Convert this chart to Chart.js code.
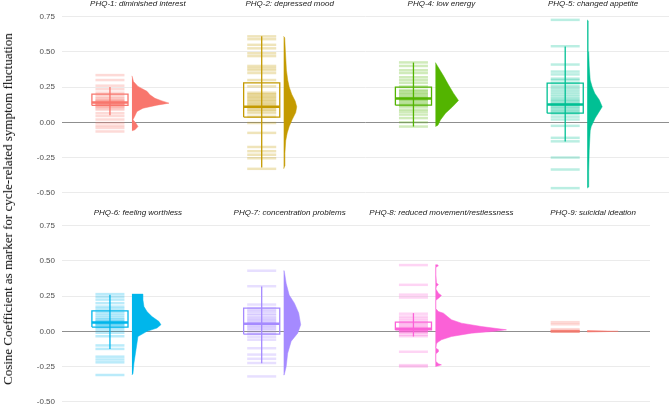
<!DOCTYPE html>
<html>
<head>
<meta charset="utf-8">
<script src="https://cdn.jsdelivr.net/npm/chart.js@4.4.1/dist/chart.umd.min.js"></script>
<style>
  html, body { margin: 0; padding: 0; background: #fff; }
  #wrap { position: relative; width: 669px; height: 406px; overflow: hidden; }
  #topRow { position: absolute; left: 0; top: 0; }
  #bottomRow { position: absolute; left: 0; top: 204px; }
  #yTitle {
    position: absolute; left: 8px; top: 209px;
    transform: translate(-50%, -50%) rotate(-90deg);
    white-space: nowrap; font: 13px "Liberation Serif", serif; color: #000;
  }
</style>
</head>
<body>
<div id="wrap">
  <canvas id="topRow" width="669" height="204"></canvas>
  <canvas id="bottomRow" width="669" height="202"></canvas>
  <div id="yTitle">Cosine Coefficient as marker for cycle-related symptom fluctuation</div>
</div>
<script>
// facet titles
const topItems = ['PHQ-1: diminished interest', 'PHQ-2: depressed mood', 'PHQ-4: low energy', 'PHQ-5: changed appetite'];
const bottomItems = ['PHQ-6: feeling worthless', 'PHQ-7: concentration problems', 'PHQ-8: reduced movement/restlessness', 'PHQ-9: suicidal ideation'];
const itemColors = ['#F8766D', '#C49A00', '#53B400', '#00C094', '#00B6EB', '#A58AFF', '#FB61D7', '#F8766D'];
const yTicks = [-0.5, -0.25, 0, 0.25, 0.5, 0.75];

// one value per participant (drawn as a dash)
const phq1 = [0.335, 0.30, 0.26, 0.235, 0.21, 0.195, 0.18, 0.17, 0.16, 0.155, 0.15, 0.145, 0.14, 0.135, 0.13, 0.13, 0.125, 0.12, 0.115, 0.11, 0.10, 0.09, 0.065, 0.045, 0.02, -0.005, -0.025, -0.04, -0.065];
const phq2 = [0.61, 0.59, 0.55, 0.525, 0.49, 0.47, 0.40, 0.385, 0.37, 0.35, 0.30, 0.255, 0.21, 0.20, 0.19, 0.18, 0.17, 0.16, 0.15, 0.14, 0.13, 0.12, 0.11, 0.10, 0.09, 0.08, 0.065, 0.04, -0.005, -0.075, -0.175, -0.205, -0.23, -0.255, -0.33];
const phq4 = [0.425, 0.40, 0.37, 0.35, 0.32, 0.30, 0.28, 0.255, 0.23, 0.22, 0.21, 0.20, 0.19, 0.18, 0.17, 0.165, 0.16, 0.15, 0.14, 0.13, 0.12, 0.11, 0.09, 0.075, 0.055, 0.03, 0.0, -0.03];
const phq5 = [0.727, 0.54, 0.41, 0.36, 0.34, 0.31, 0.30, 0.28, 0.26, 0.245, 0.23, 0.215, 0.20, 0.185, 0.17, 0.16, 0.15, 0.14, 0.13, 0.125, 0.12, 0.11, 0.10, 0.09, 0.08, 0.07, 0.06, 0.04, 0.02, -0.025, -0.11, -0.135, -0.25, -0.335, -0.467];
const phq6 = [0.264, 0.245, 0.225, 0.20, 0.175, 0.16, 0.14, 0.125, 0.11, 0.095, 0.085, 0.075, 0.07, 0.06, 0.055, 0.05, 0.045, 0.035, 0.025, 0.01, -0.01, -0.035, -0.10, -0.125, -0.18, -0.20, -0.22, -0.31];
const phq7 = [0.43, 0.32, 0.19, 0.165, 0.15, 0.14, 0.125, 0.115, 0.10, 0.09, 0.08, 0.07, 0.06, 0.055, 0.05, 0.04, 0.03, 0.02, 0.01, -0.01, -0.02, -0.04, -0.06, -0.12, -0.165, -0.195, -0.225, -0.32];
const phq8 = [0.47, 0.33, 0.26, 0.24, 0.125, 0.105, 0.09, 0.075, 0.06, 0.05, 0.04, 0.03, 0.02, 0.015, 0.01, 0.005, 0.0, 0.0, -0.005, -0.01, -0.025, -0.035, -0.145, -0.24, -0.25];
const phq9 = [0.065, 0.05, 0.015, 0.005, 0, 0, 0, 0, 0, 0];

// boxplots: [lower whisker, Q1, median, Q3, upper whisker]
const phq1Box = [0.05, 0.12, 0.14, 0.20, 0.25];
const phq2Box = [-0.32, 0.037, 0.11, 0.28, 0.61];
const phq4Box = [-0.03, 0.122, 0.169, 0.25, 0.424];
const phq5Box = [-0.136, 0.065, 0.126, 0.278, 0.538];
const phq6Box = [-0.126, 0.03, 0.062, 0.145, 0.26];
const phq7Box = [-0.226, -0.02, 0.053, 0.164, 0.318];
const phq8Box = [-0.037, 0.01, 0.018, 0.065, 0.129];
const phq9Box = null;

// half violins: value levels and density
const phq1DensY = [-0.06, -0.053, -0.03, -0.006, 0.018, 0.046, 0.077, 0.10, 0.122, 0.136, 0.152, 0.17, 0.195, 0.22, 0.255, 0.29, 0.33];
const phq1Dens = [0, 3, 6, 4, 1, 3, 5, 11, 25, 37, 30, 23, 18, 15, 6, 1.5, 0];
const phq2DensY = [-0.33, -0.31, -0.22, -0.13, -0.075, -0.03, 0.02, 0.07, 0.11, 0.15, 0.20, 0.25, 0.30, 0.37, 0.50, 0.60, 0.61];
const phq2Dens = [0, 1, 1.2, 2, 3.5, 5.5, 8.5, 12, 13, 11.5, 8, 5.5, 4, 2.7, 1.7, 1, 0];
const phq4DensY = [-0.03, -0.02, 0.017, 0.064, 0.11, 0.155, 0.207, 0.266, 0.33, 0.40, 0.424];
const phq4Dens = [0, 2.5, 5, 10, 17, 23, 18, 13, 8, 2, 0];
const phq5DensY = [-0.467, -0.46, -0.35, -0.2, -0.06, -0.03, 0.0, 0.03, 0.065, 0.11, 0.16, 0.207, 0.25, 0.30, 0.40, 0.50, 0.72, 0.727];
const phq5Dens = [0, 1, 1.5, 2, 3, 4, 6, 8, 11, 15, 12, 7.5, 5, 3, 2, 1.5, 1, 0];
const phq6DensY = [-0.31, -0.3, -0.226, -0.155, -0.085, -0.037, 0.0, 0.023, 0.047, 0.07, 0.105, 0.14, 0.176, 0.223, 0.264];
const phq6Dens = [0, 1, 2, 3.5, 5, 6, 15, 25, 29, 27, 20, 15, 12, 11, 11];
const phq7DensY = [-0.31, -0.25, -0.155, -0.07, -0.013, 0.047, 0.13, 0.20, 0.257, 0.34, 0.43];
const phq7Dens = [0.5, 2.5, 4, 7.5, 14, 17, 15, 10.7, 5.5, 2.5, 0.5];
const phq8DensY = [-0.25, -0.245, -0.238, -0.23, -0.214, -0.16, -0.145, -0.131, -0.12, -0.09, -0.08, -0.06, -0.037, -0.013, 0.0, 0.011, 0.034, 0.058, 0.082, 0.105, 0.129, 0.14, 0.16, 0.22, 0.24, 0.255, 0.27, 0.30, 0.32, 0.33, 0.345, 0.40, 0.455, 0.465, 0.472];
const phq8Dens = [0, 3, 6, 3, 0.5, 0.5, 3, 3, 0.5, 1, 2, 6, 16, 36, 59, 71, 46, 26, 16, 12, 8, 3, 0.5, 0.5, 4, 6, 3, 0.5, 1, 3, 1, 0.5, 0.5, 3, 2];
const phq9DensY = [-0.005, 0, 0.005];
const phq9Dens = [0, 31, 0];

// layout inside one facet (a facet is 1 unit wide on the x scale)
const BOX_X = 0.316;
const BOX_HALF = 0.119;
const VIOLIN_X = 0.461;
const DENS_SCALE = 1 / 151.75;

function alpha(hex, a) {
  const n = parseInt(hex.slice(1), 16);
  return `rgba(${n >> 16},${(n >> 8) & 255},${n & 255},${a})`;
}

function facetDatasets(values, box, densY, dens, color, i) {
  const cx = i + BOX_X;
  const out = [];
  const line = { showLine: true, fill: false, pointRadius: 0, borderColor: color, tension: 0 };

  // half violin
  const shape = [{ x: i + VIOLIN_X, y: densY[0] }];
  densY.forEach((y, k) => shape.push({ x: i + VIOLIN_X + dens[k] * DENS_SCALE, y }));
  shape.push({ x: i + VIOLIN_X, y: densY[densY.length - 1] });
  out.push({ ...line, data: shape, fill: 'shape', backgroundColor: color, borderWidth: 0.5, order: 3 });

  // dashes
  out.push({
    data: values.map(v => ({ x: cx, y: v })),
    pointStyle: 'line', pointRadius: 14.5, pointHoverRadius: 14.5,
    pointBorderColor: alpha(color, 0.27), pointBorderWidth: 2.5, showLine: false, order: 2
  });

  if (box) {
    const [lo, q1, med, q3, hi] = box;
    out.push({ ...line, borderWidth: 1.3, order: 1, data: [{ x: cx, y: lo }, { x: cx, y: hi }] });
    out.push({ ...line, borderWidth: 1.3, order: 1, data: [
      { x: cx - BOX_HALF, y: q1 }, { x: cx + BOX_HALF, y: q1 }, { x: cx + BOX_HALF, y: q3 },
      { x: cx - BOX_HALF, y: q3 }, { x: cx - BOX_HALF, y: q1 }] });
    out.push({ ...line, borderWidth: 2.5, order: 1, data: [{ x: cx - BOX_HALF, y: med }, { x: cx + BOX_HALF, y: med }] });
  }
  return out;
}

// zero reference line and facet strip titles
const facetDecor = {
  id: 'facetDecor',
  beforeDatasetsDraw(chart) {
    const { ctx, chartArea: a, scales: { y } } = chart;
    const y0 = Math.round(y.getPixelForValue(0)) + 0.5;
    ctx.save();
    ctx.strokeStyle = '#8F8F8F';
    ctx.lineWidth = 1;
    ctx.beginPath();
    ctx.moveTo(a.left, y0);
    ctx.lineTo(a.right, y0);
    ctx.stroke();
    ctx.restore();
  },
  afterDraw(chart, args, opts) {
    const { ctx, chartArea: a, scales: { x } } = chart;
    ctx.save();
    ctx.font = 'italic 8px "Liberation Sans", Arial, sans-serif';
    ctx.fillStyle = '#1A1A1A';
    ctx.textAlign = 'center';
    ctx.textBaseline = 'middle';
    opts.titles.forEach((t, i) => ctx.fillText(t, x.getPixelForValue(i + 0.5), a.top - 7));
    ctx.restore();
  }
};

function makeRow(canvasId, titles, datasets, xMax, padding) {
  return new Chart(document.getElementById(canvasId), {
    type: 'scatter',
    data: { datasets },
    options: {
      responsive: false,
      animation: false,
      events: [],
      layout: { padding, autoPadding: false },
      plugins: { legend: { display: false }, tooltip: { enabled: false }, facetDecor: { titles } },
      scales: {
        x: { type: 'linear', min: 0, max: xMax, display: false },
        y: {
          type: 'linear', min: -0.53, max: 0.79,
          afterFit: s => { s.width = 62; s.paddingTop = 0; s.paddingBottom = 0; },
          afterBuildTicks: s => { s.ticks = yTicks.map(v => ({ value: v })); },
          grid: { color: '#EBEBEB', drawTicks: false },
          border: { display: false },
          ticks: {
            padding: 7, color: '#4D4D4D',
            font: { family: '"Liberation Sans", Arial, sans-serif', size: 8 },
            callback: v => v.toFixed(2)
          }
        }
      }
    },
    plugins: [facetDecor]
  });
}

const topSets = [
  ...facetDatasets(phq1, phq1Box, phq1DensY, phq1Dens, itemColors[0], 0),
  ...facetDatasets(phq2, phq2Box, phq2DensY, phq2Dens, itemColors[1], 1),
  ...facetDatasets(phq4, phq4Box, phq4DensY, phq4Dens, itemColors[2], 2),
  ...facetDatasets(phq5, phq5Box, phq5DensY, phq5Dens, itemColors[3], 3)
];
const bottomSets = [
  ...facetDatasets(phq6, phq6Box, phq6DensY, phq6Dens, itemColors[4], 0),
  ...facetDatasets(phq7, phq7Box, phq7DensY, phq7Dens, itemColors[5], 1),
  ...facetDatasets(phq8, phq8Box, phq8DensY, phq8Dens, itemColors[6], 2),
  ...facetDatasets(phq9, phq9Box, phq9DensY, phq9Dens, itemColors[7], 3)
];

makeRow('topRow', topItems, topSets, 4, { top: 11, bottom: 7, left: 0, right: 0 });
makeRow('bottomRow', bottomItems, bottomSets, 3.875, { top: 16, bottom: 0, left: 0, right: 19 });
</script>
</body>
</html>
